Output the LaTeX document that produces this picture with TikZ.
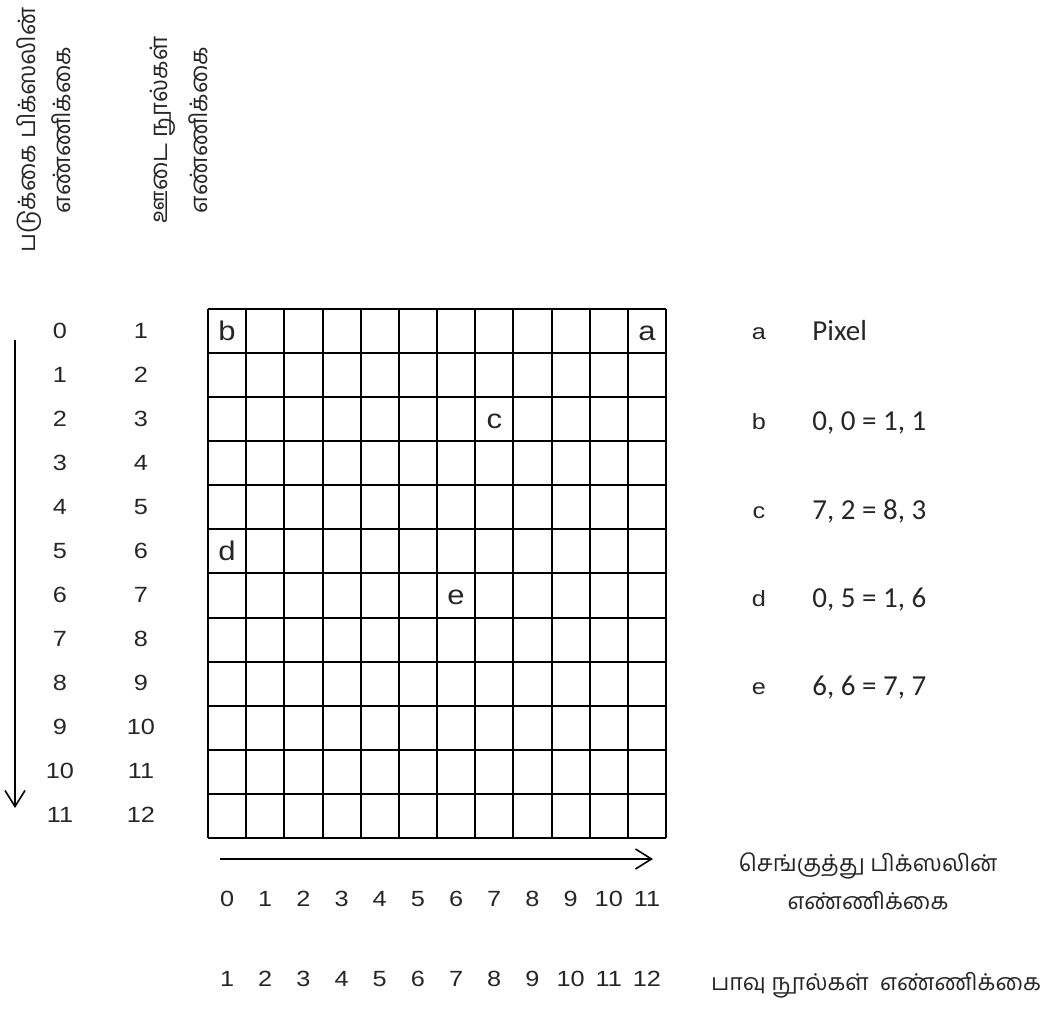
\documentclass[tikz,border=0pt]{standalone}
\usepackage{fontspec}
\setmainfont{Liberation Sans}[FakeStretch=1.15]
\newfontfamily\tamil[Script=Tamil]{Hind Madurai}
\newfontfamily\legendfont{Carlito}
\usetikzlibrary{arrows.meta}
\newcommand{\cellw}{38.17}
\newcommand{\cellh}{44.08}

\begin{document}
\begin{tikzpicture}[x=0.5pt,y=-0.5pt,>={Straight Barb[length=8pt,width=10pt]},
 gridline/.style={line width=1pt},
 axis/.style={line width=0.8pt,->},
 num/.style={font=\fontsize{11}{13}\selectfont,text=black!85,text height=8pt,text depth=2pt,inner sep=0pt},
 cellmark/.style={font=\fontsize{13.5}{15}\selectfont,text=black!85,text height=10pt,text depth=3pt,inner sep=0pt},
 keymark/.style={font=\fontsize{11}{13}\selectfont,text=black!85,text height=8pt,text depth=2pt,inner sep=0pt},
 legendval/.style={font=\legendfont\fontsize{14.5}{17}\selectfont,text=black!85,text height=10pt,text depth=3pt,inner sep=0pt,anchor=west},
 tamiltext/.style={font=\tamil\fontsize{11.6}{19}\selectfont,text=black!85,align=center}]
\useasboundingbox (0,0) rectangle (1042,1012);
% the 12 x 12 pixel grid
\foreach \i in {0,...,12} {\draw[gridline] ({208+\cellw*\i},309) -- ({208+\cellw*\i},838);}
\foreach \j in {0,...,12} {\draw[gridline] (208,{309+\cellh*\j}) -- (666,{309+\cellh*\j});}
\foreach \l/\i/\j in {b/0/0,a/11/0,c/7/2,d/0/5,e/6/6} {\node[cellmark] (cell\l) at ({208+\cellw*(\i+0.5)},{311+\cellh*(\j+0.5)}) {\l};}
% row numbers on the left
\foreach \j in {0,...,11} {
 \pgfmathtruncatemacro\k{\j+1}
 \node[num] (row\j) at (60,{332+\cellh*\j}) {\j};
 \node[num] (weft\j) at (141,{332+\cellh*\j}) {\k};
}
% column numbers below
\foreach \i in {0,...,11} {
 \pgfmathtruncatemacro\k{\i+1}
 \node[num] (col\i) at ({208+\cellw*(\i+0.5)},900) {\i};
 \node[num] (warp\i) at ({208+\cellw*(\i+0.5)},980) {\k};
}
% the two axes
\coordinate (vtop) at (15,340);
\coordinate (vbot) at (15,808);
\draw[axis] (vtop) -- (vbot);
\coordinate (hleft) at (220,859);
\coordinate (hright) at (653,859);
\draw[axis] (hleft) -- (hright);
% axis titles
\node[tamiltext,rotate=90,font=\tamil\fontsize{12}{17.5}\selectfont] (rowtitle) at (44,130) {படுக்கை பிக்ஸலின்\\எண்ணிக்கை};
\node[tamiltext,rotate=90,font=\tamil\fontsize{12}{20}\selectfont] (wefttitle) at (179,130) {ஊடை நூல்கள்\\எண்ணிக்கை};
\node[tamiltext] (coltitle) at (868,881) {செங்குத்து பிக்ஸலின்\\எண்ணிக்கை};
\node[tamiltext] (warptitle) at (876,985) {பாவு நூல்கள்~~எண்ணிக்கை};
% legend on the right
\foreach \l/\t/\y in {a/Pixel/333,b/{0, 0 =~1, 1}/423,c/{7, 2 = 8, 3}/512,d/{0, 5 = 1, 6}/600,e/{6, 6 = 7, 7}/688} {
 \node[keymark] (key\l) at (759,\y) {\l};
 \node[legendval] (val\l) at (812,\y) {\t};
}
\end{tikzpicture}
\end{document}
